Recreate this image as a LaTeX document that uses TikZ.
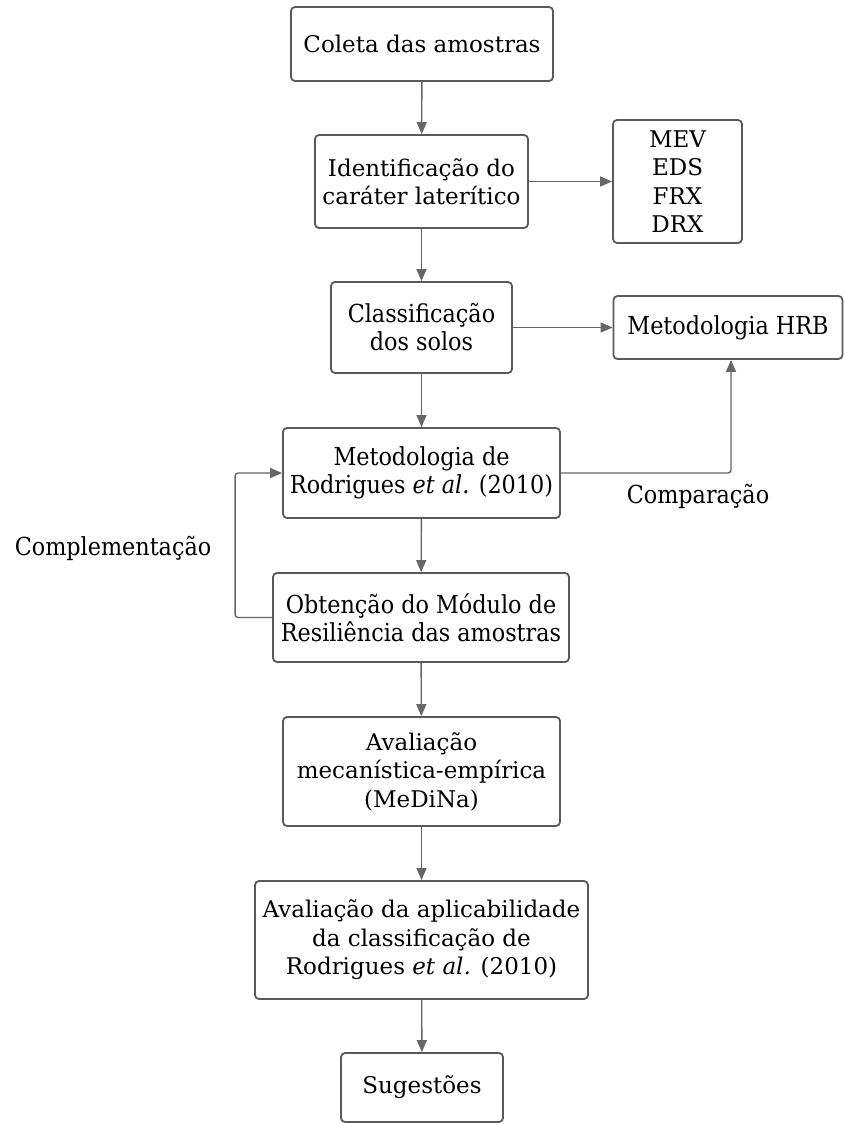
\documentclass[tikz,border=0pt]{standalone}
\usepackage{fontspec}
\setmainfont{DejaVu Serif}
\newfontfamily\condf{DejaVu Serif Condensed}
\usetikzlibrary{arrows.meta}
\definecolor{boxgray}{HTML}{5A5A5A}
\definecolor{linegray}{HTML}{666666}
\begin{document}
\begin{tikzpicture}[x=1pt,y=-1pt,
  box/.style={draw=boxgray, line width=1.8pt, rounded corners=4pt, align=center, inner sep=0pt, fill=white, text=black, font=\fontsize{23}{28.5}\selectfont},
  cbox/.style={box, font=\fontsize{24.8}{28}\selectfont\condf},
  arr/.style={draw=linegray, line width=1.4pt, -{Triangle[length=12pt,width=10pt]}},
  lbl/.style={inner sep=0pt, text=black, font=\fontsize{24.8}{28}\selectfont\condf}
]
\useasboundingbox (0,0) rectangle (844,1125);
\fill[white] (0,0) rectangle (844,1125);

\node[box, minimum width=262pt, minimum height=74pt] (coleta) at (422,44) {Coleta das amostras};
\node[box, minimum width=213pt, minimum height=93pt] (ident) at (421.5,181.5) {Identificação do\\caráter laterítico};
\node[box, minimum width=129pt, minimum height=123pt] (mev) at (677.5,181.5) {MEV\\EDS\\FRX\\DRX};
\node[cbox, minimum width=181pt, minimum height=91pt] (classif) at (421.5,327.5) {Classificação\\dos solos};
\node[cbox, minimum width=229pt, minimum height=63pt] (hrb) at (728,327.5) {Metodologia HRB};
\node[cbox, minimum width=277pt, minimum height=90pt] (rod) at (421.5,473) {Metodologia de\\Rodrigues \textit{et al.} (2010)};
\node[cbox, minimum width=296pt, minimum height=89pt] (obt) at (421,617.5) {Obtenção do Módulo de\\Resiliência das amostras};
\node[box, minimum width=277pt, minimum height=109pt] (aval) at (421.5,771.5) {Avaliação\\mecanística-empírica\\(MeDiNa)};
\node[box, minimum width=333pt, minimum height=118pt] (aplic) at (421.5,940) {Avaliação da aplicabilidade\\da classificação de\\Rodrigues \textit{et al.} (2010)};
\node[box, minimum width=162pt, minimum height=69pt] (sug) at (422,1087.5) {Sugestões};

\node[lbl] (compl) at (113,548) {Complementação};
\node[lbl] (compa) at (698,496) {Comparação};

\draw[arr] (coleta) -- (ident);
\draw[arr] (ident) -- (mev);
\draw[arr] (ident) -- (classif);
\draw[arr] (classif) -- (hrb);
\draw[arr] (classif) -- (rod);
\draw[arr, rounded corners=3pt] (rod.east) -| ([xshift=3pt]hrb.south);
\draw[arr] (rod) -- (obt);
\draw[arr, rounded corners=3pt] (obt.west) -- ++(-37,0) |- (rod.west);
\draw[arr] (obt) -- (aval);
\draw[arr] (aval) -- (aplic);
\draw[arr] (aplic) -- (sug);
\end{tikzpicture}
\end{document}
